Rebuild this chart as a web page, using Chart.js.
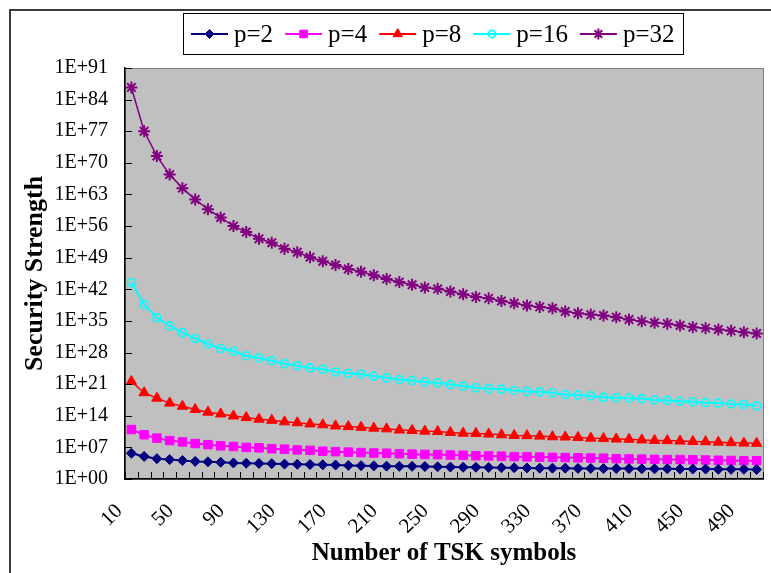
<!DOCTYPE html>
<html>
<head>
<meta charset="utf-8">
<script src="https://cdn.jsdelivr.net/npm/chart.js@4.4.1/dist/chart.umd.min.js"></script>
<style>
  html, body { margin: 0; padding: 0; background: #fff; overflow: hidden; }
  canvas { display: block; }
</style>
</head>
<body>
<canvas id="myChart" width="771" height="573"></canvas>
<script>
const symbols = [
  10, 20, 30, 40, 50, 60, 70, 80, 90, 100,
  110, 120, 130, 140, 150, 160, 170, 180, 190, 200,
  210, 220, 230, 240, 250, 260, 270, 280, 290, 300,
  310, 320, 330, 340, 350, 360, 370, 380, 390, 400,
  410, 420, 430, 440, 450, 460, 470, 480, 490, 500,
];
const tickExponents = [0, 7, 14, 21, 28, 35, 42, 49, 56, 63, 70, 77, 84, 91];

// log10 of the security strength
const p2 = [
  5.7, 5.0, 4.5, 4.3, 4.1, 3.9, 3.8, 3.7, 3.55, 3.5,
  3.45, 3.4, 3.3, 3.25, 3.2, 3.15, 3.1, 3.0, 2.95, 2.9,
  2.85, 2.8, 2.8, 2.75, 2.7, 2.65, 2.6, 2.6, 2.55, 2.5,
  2.5, 2.45, 2.4, 2.4, 2.4, 2.35, 2.35, 2.3, 2.3, 2.3,
  2.25, 2.25, 2.25, 2.2, 2.2, 2.2, 2.15, 2.15, 2.15, 2.1,
];
const p4 = [
  10.95, 9.8, 9.05, 8.5, 8.2, 7.85, 7.6, 7.35, 7.2, 7.0,
  6.9, 6.7, 6.6, 6.45, 6.35, 6.15, 6.05, 5.95, 5.85, 5.75,
  5.7, 5.6, 5.5, 5.45, 5.4, 5.3, 5.25, 5.15, 5.1, 5.05,
  4.95, 4.9, 4.85, 4.8, 4.75, 4.7, 4.65, 4.6, 4.5, 4.45,
  4.4, 4.35, 4.3, 4.3, 4.25, 4.2, 4.15, 4.1, 4.05, 4.05,
];
const p8 = [
  21.6, 19.1, 17.9, 16.8, 16.1, 15.4, 14.8, 14.4, 13.95, 13.6,
  13.25, 13.0, 12.65, 12.45, 12.2, 12.0, 11.75, 11.6, 11.45, 11.25,
  11.1, 10.85, 10.75, 10.6, 10.5, 10.3, 10.15, 10.1, 9.95, 9.8,
  9.65, 9.6, 9.5, 9.35, 9.3, 9.2, 9.05, 8.95, 8.85, 8.8,
  8.65, 8.55, 8.5, 8.4, 8.3, 8.25, 8.15, 8.05, 7.95, 7.9,
];
const p16 = [
  43.5, 38.6, 35.7, 33.9, 32.4, 31.1, 29.9, 28.9, 28.3, 27.3,
  26.8, 26.2, 25.5, 25.1, 24.6, 24.3, 23.7, 23.4, 23.2, 22.8,
  22.4, 22.0, 21.8, 21.5, 21.3, 20.9, 20.6, 20.2, 20.0, 19.9,
  19.6, 19.4, 19.3, 19.1, 18.7, 18.6, 18.4, 18.1, 18.0, 17.9,
  17.8, 17.5, 17.4, 17.2, 17.1, 16.9, 16.8, 16.6, 16.5, 16.2,
];
const p32 = [
  86.7, 77.0, 71.5, 67.4, 64.4, 61.9, 59.7, 57.9, 56.0, 54.7,
  53.2, 52.3, 51.0, 50.2, 49.1, 48.2, 47.4, 46.5, 45.9, 45.1,
  44.3, 43.6, 43.0, 42.4, 42.1, 41.5, 40.9, 40.3, 40.0, 39.4,
  38.9, 38.4, 38.1, 37.8, 37.1, 36.7, 36.4, 36.2, 35.8, 35.3,
  34.9, 34.6, 34.4, 34.0, 33.6, 33.4, 33.1, 32.8, 32.5, 32.2,
];

const serif = "'Liberation Serif', 'Times New Roman', serif";

function series(label, values, color, style, radius, lineWidth) {
  return {
    label: label,
    data: values.map((v) => 10 ** v),
    borderColor: color,
    backgroundColor: style === "circle" ? "rgba(0,0,0,0)" : color,
    pointBorderColor: color,
    pointStyle: style,
    pointRadius: radius,
    pointHoverRadius: radius,
    pointBorderWidth: style === "star" ? 2 : style === "circle" ? 1.6 : 1,
    borderWidth: lineWidth,
    tension: 0,
  };
}

// plot background, outer frame and the inward tick marks
const framePlugin = {
  id: "frame",
  beforeDraw(chart) {
    const { ctx, chartArea: a } = chart;
    ctx.save();
    ctx.fillStyle = "#fff";
    ctx.fillRect(0, 0, chart.width, chart.height);
    ctx.strokeStyle = "#3a3a3a";
    ctx.lineWidth = 2;
    ctx.beginPath();
    ctx.moveTo(10, chart.height + 2);
    ctx.lineTo(10, 10);
    ctx.lineTo(chart.width + 2, 10);
    ctx.stroke();
    ctx.fillStyle = "#c0c0c0";
    ctx.fillRect(a.left, a.top, a.right - a.left, a.bottom - a.top);
    ctx.strokeStyle = "#808080";
    ctx.lineWidth = 1;
    ctx.strokeRect(a.left + 0.5, a.top + 0.5, a.right - a.left, a.bottom - a.top);
    ctx.restore();
  },
  afterDraw(chart) {
    const { ctx, chartArea: a, scales } = chart;
    ctx.save();
    ctx.strokeStyle = "#000";
    ctx.lineWidth = 1;
    ctx.beginPath();
    scales.y.ticks.forEach((t) => {
      const y = Math.round(scales.y.getPixelForValue(t.value)) + 0.5;
      ctx.moveTo(a.left, y);
      ctx.lineTo(a.left + 7, y);
    });
    for (let i = 0; i <= symbols.length; i++) {
      const x = Math.round(scales.x.getPixelForValue(i - 0.5)) + 0.5;
      ctx.moveTo(x, a.bottom);
      ctx.lineTo(x, a.bottom - 7);
    }
    ctx.stroke();
    ctx.restore();
  },
};

// boxed legend: short line with the marker in the middle, then the label
const legendPlugin = {
  id: "boxLegend",
  afterDraw(chart) {
    const { ctx } = chart;
    const boxX = 183.5, boxY = 13.5, boxW = 500, boxH = 41;
    const midY = 34;
    ctx.save();
    ctx.fillStyle = "#fff";
    ctx.fillRect(boxX, boxY, boxW, boxH);
    ctx.strokeStyle = "#000";
    ctx.lineWidth = 1;
    ctx.strokeRect(boxX, boxY, boxW, boxH);
    ctx.font = "25px " + serif;
    ctx.textBaseline = "middle";
    let x = 191;
    chart.data.datasets.forEach((ds) => {
      ctx.strokeStyle = ds.borderColor;
      ctx.lineWidth = 2;
      ctx.beginPath();
      ctx.moveTo(x, midY);
      ctx.lineTo(x + 37, midY);
      ctx.stroke();
      ctx.fillStyle = ds.backgroundColor;
      ctx.strokeStyle = ds.pointBorderColor;
      ctx.lineWidth = ds.pointBorderWidth;
      Chart.helpers.drawPoint(ctx, {
        pointStyle: ds.pointStyle,
        radius: ds.pointRadius * 0.9,
        rotation: 0,
        borderWidth: ds.pointBorderWidth,
      }, x + 18.5, midY);
      ctx.fillStyle = "#000";
      ctx.fillText(ds.label, x + 43, midY + 1);
      x += 43 + ctx.measureText(ds.label).width + 12;
    });
    ctx.restore();
  },
};

const ctx = document.getElementById("myChart");

const myChart = new Chart(ctx, {
  type: "line",
  data: {
    labels: symbols,
    datasets: [
      series("p=2", p2, "#000080", "rectRot", 5, 2),
      series("p=4", p4, "#ff00ff", "rect", 6, 2),
      series("p=8", p8, "#ff0000", "triangle", 6, 1.5),
      series("p=16", p16, "#00ffff", "circle", 4, 2),
      series("p=32", p32, "#800080", "star", 6, 1.5),
    ],
  },
  options: {
    responsive: false,
    animation: false,
    devicePixelRatio: 1,
    layout: { padding: { left: 10, top: 68, right: 0, bottom: 0 } },
    plugins: {
      legend: { display: false },
      tooltip: { enabled: false },
    },
    scales: {
      x: {
        type: "category",
        offset: true,
        grid: { display: false, drawTicks: false },
        border: { display: true, color: "#000", width: 1.5 },
        ticks: {
          autoSkip: false,
          maxRotation: 45,
          minRotation: 45,
          padding: 20,
          labelOffset: -12,
          color: "#000",
          font: { family: serif, size: 21 },
          callback: (value, index) => (index % 4 === 0 ? symbols[index] : ""),
        },
        title: {
          display: true,
          text: "Number of TSK symbols",
          color: "#000",
          font: { family: serif, size: 25, weight: "bold" },
          padding: { top: 0, bottom: 4 },
        },
        afterFit: (scale) => {
          scale.height = 94;
          scale.paddingRight = 0;
        },
      },
      y: {
        type: "logarithmic",
        min: 1,
        max: 1e91,
        grid: { display: false, drawTicks: false },
        border: { display: true, color: "#000", width: 1.5 },
        afterBuildTicks: (scale) => {
          scale.ticks = tickExponents.map((e) => ({ value: 10 ** e }));
        },
        ticks: {
          padding: 17,
          color: "#000",
          font: { family: serif, size: 20 },
          callback: (value) =>
            "1E+" + String(Math.round(Math.log10(value))).padStart(2, "0"),
        },
        title: {
          display: true,
          text: "Security Strength",
          color: "#000",
          font: { family: serif, size: 26, weight: "bold" },
          padding: { top: 9.4, bottom: 0 },
        },
        afterFit: (scale) => {
          scale.width = 115;
        },
      },
    },
  },
  plugins: [framePlugin, legendPlugin],
});
</script>
</body>
</html>
